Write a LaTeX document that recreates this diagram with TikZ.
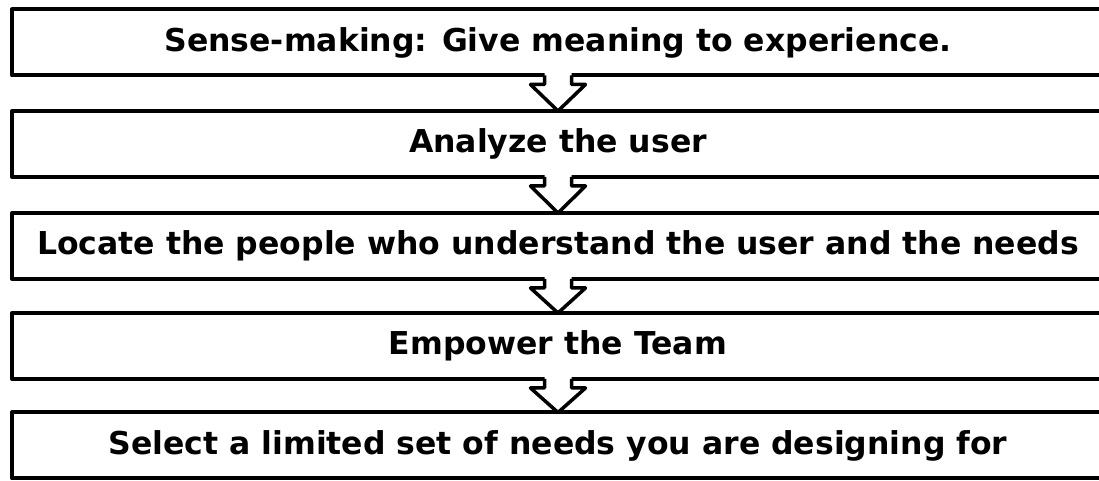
\documentclass[tikz,border=0pt]{standalone}
\usepackage{fontspec}
\setmainfont{DejaVu Sans}
\usetikzlibrary{calc}

% white block arrow from the bottom of one box to the top of the next
\newcommand{\stepdown}[2]{%
  \fill[white] ($(#1.south)+(-13.5,2.5)$) -- ($(#1.south)+(-13.5,-9)$) -- ($(#1.south)+(-27.5,-9)$)
    -- (#2.north) -- ($(#1.south)+(27.5,-9)$) -- ($(#1.south)+(13.5,-9)$) -- ($(#1.south)+(13.5,2.5)$) -- cycle;
  \draw[arrowline] ($(#1.south)+(-13.5,0)$) -- ($(#1.south)+(-13.5,-9)$) -- ($(#1.south)+(-27.5,-9)$)
    -- (#2.north) -- ($(#1.south)+(27.5,-9)$) -- ($(#1.south)+(13.5,-9)$) -- ($(#1.south)+(13.5,0)$);
}

\begin{document}
\begin{tikzpicture}[x=1bp,y=1bp,line join=round,
  stage/.style={draw,line width=4bp,rectangle,outer sep=0pt,minimum width=1092bp,minimum height=66bp,
    font=\fontsize{31.5bp}{36bp}\selectfont\bfseries},
  arrowline/.style={line width=3.5bp,line join=round}]
\useasboundingbox (0,0) rectangle (1099,481);
%%
\node (s1) at (558,438.5) [stage] {Sense-making: Give meaning to experience.};
\node (s2) at (558,337) [stage] {Analyze the user};
\node (s3) at (558,235) [stage] {Locate the people who understand the user and the needs};
\node (s4) at (558,135) [stage] {Empower the Team};
\node (s5) at (558,35.5) [stage] {Select a limited set of needs you are designing for};
\stepdown{s1}{s2}
\stepdown{s2}{s3}
\stepdown{s3}{s4}
\stepdown{s4}{s5}
%
\end{tikzpicture}
\end{document}
